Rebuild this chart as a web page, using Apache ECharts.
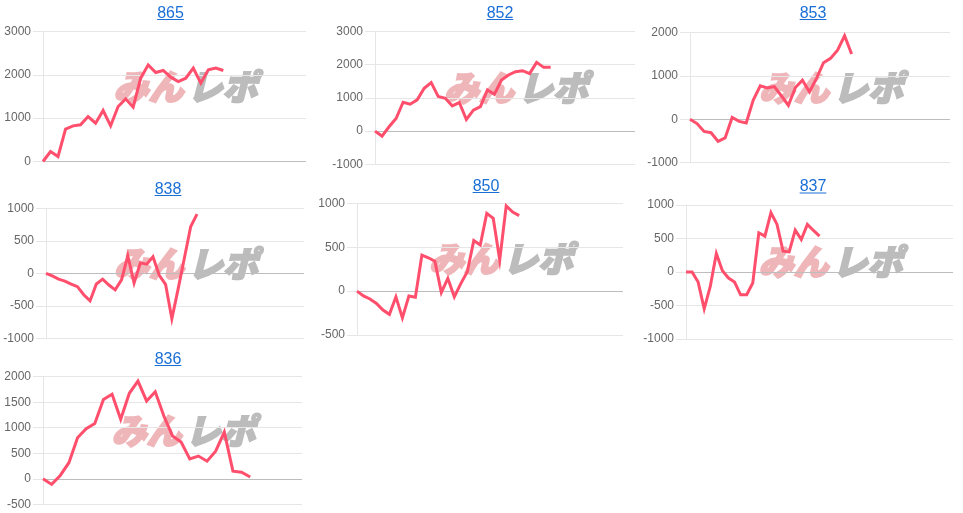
<!DOCTYPE html>
<html><head><meta charset="utf-8">
<script src="https://cdn.jsdelivr.net/npm/echarts@6/dist/echarts.min.js"></script>
<style>html,body{margin:0;padding:0;background:#fff}#c{width:963px;height:513px}</style>
</head><body><div id="c"></div>
<script>
// ---- data ----
const titles = ['865', '852', '853', '838', '850', '837', '836'];
const catCounts = [36, 38, 38, 42, 42, 45, 31];
const s865 = [0, 230, 115, 746, 823, 846, 1038, 885, 1177, 823, 1269, 1446, 1254, 1923, 2230, 2054, 2100, 1946, 1846, 1923, 2154, 1808, 2115, 2154, 2100];
const s852 = [0, -150, 130, 380, 870, 810, 940, 1290, 1460, 1040, 990, 760, 860, 350, 630, 735, 1240, 1110, 1540, 1690, 1790, 1820, 1730, 2070, 1920, 1920];
const s853 = [0, -100, -280, -310, -510, -430, 40, -50, -85, 440, 770, 720, 750, 540, 320, 730, 900, 630, 940, 1300, 1400, 1590, 1920, 1500];
const s838 = [0, -40, -90, -120, -165, -205, -330, -425, -165, -90, -180, -255, -100, 270, -150, 160, 140, 255, -30, -170, -700, -240, 240, 720, 910];
const s850 = [0, -55, -90, -140, -215, -265, -65, -305, -55, -70, 410, 380, 340, -15, 145, -65, 85, 220, 575, 525, 885, 830, 355, 970, 900, 860];
const s837 = [0, 0, -150, -550, -215, 275, 20, -90, -150, -340, -340, -165, 585, 535, 885, 710, 310, 300, 625, 485, 710, 620, 535];
const s836 = [0, -110, 65, 315, 805, 980, 1085, 1555, 1655, 1165, 1675, 1915, 1525, 1705, 1230, 840, 720, 390, 445, 345, 540, 915, 150, 130, 35];
const seriesData = [s865, s852, s853, s838, s850, s837, s836];
const yMin = [0, -1000, -1000, -1000, -500, -1000, -500];
const yMax = [3000, 3000, 2000, 1000, 1000, 1000, 2000];
const yStep = [1000, 1000, 1000, 500, 500, 500, 500];

// ---- layout ----
const grids = [
  {left: 43, top: 31.5, width: 263, height: 130},
  {left: 375, top: 31.5, width: 260, height: 132.8},
  {left: 690, top: 32.3, width: 260, height: 130.4},
  {left: 46, top: 208.3, width: 258, height: 130},
  {left: 357, top: 203.3, width: 266, height: 131.7},
  {left: 686, top: 205, width: 267, height: 134},
  {left: 43, top: 376.7, width: 259, height: 127.6}
];
const titlePos = [[170.5, 12.5], [500, 12.5], [813, 12.5], [168, 188.5], [486, 185.5], [813, 186], [168, 358.5]];

const LINE = '#ff4f6d';
const GRIDC = '#e6e6e6';
const ZEROC = '#bdbdbd';
const TITLEC = '#1a6fd6';
const LABELFONT = '"Liberation Sans", Arial, sans-serif';

const mctx = document.createElement('canvas').getContext('2d');
mctx.font = '16px "Liberation Sans", Arial, sans-serif';

const option = {
  animation: false,
  grid: [], xAxis: [], yAxis: [], series: [], graphic: []
};

for (let i = 0; i < titles.length; i++) {
  const g = grids[i];
  option.grid.push(Object.assign({containLabel: false}, g));
  const cats = [];
  for (let k = 1; k <= catCounts[i]; k++) cats.push(String(k));
  option.xAxis.push({
    type: 'category', gridIndex: i, data: cats, boundaryGap: false,
    axisLine: {show: false}, axisTick: {show: false}, axisLabel: {show: false}, splitLine: {show: false}
  });
  const splitColors = [];
  for (let v = yMin[i]; v <= yMax[i]; v += yStep[i]) splitColors.push(v === 0 ? ZEROC : GRIDC);
  option.yAxis.push({
    type: 'value', gridIndex: i, min: yMin[i], max: yMax[i], interval: yStep[i],
    axisLine: {show: true, lineStyle: {color: GRIDC, width: 1}},
    axisTick: {show: true, length: 10, lineStyle: {color: GRIDC}},
    axisLabel: {margin: 12, color: '#666', fontSize: 12, fontFamily: LABELFONT, formatter: v => String(v)},
    splitLine: {show: true, lineStyle: {color: splitColors, width: 1}}
  });
  option.series.push({
    type: 'line', xAxisIndex: i, yAxisIndex: i, data: seriesData[i],
    symbol: 'none', smooth: false, z: 5,
    lineStyle: {color: LINE, width: 3, join: 'miter'}, itemStyle: {color: LINE}
  });

  // watermark (logo-like text)
  const cx = g.left + g.width / 2 + 12;
  const cy = g.top + g.height / 2 - 10;
  option.graphic.push({
    type: 'text', z: -1, silent: true, x: cx - 3, y: cy,
    style: {text: 'みん', fill: '#efb6b9', stroke: '#efb6b9', lineWidth: 2, font: 'italic 900 35px "Noto Sans CJK JP"', align: 'right', verticalAlign: 'middle'}
  });
  option.graphic.push({
    type: 'text', z: -1, silent: true, x: cx + 1, y: cy,
    style: {text: 'レポ', fill: '#bcbcbc', stroke: '#bcbcbc', lineWidth: 2, font: 'italic 900 35px "Noto Sans CJK JP"', align: 'left', verticalAlign: 'middle'}
  });

  // title with underline
  const [tx, ty] = titlePos[i];
  const tw = mctx.measureText(titles[i]).width;
  option.graphic.push({
    type: 'text', silent: true, x: tx, y: ty + 1,
    style: {text: titles[i], fill: TITLEC, font: '16px "Liberation Sans", Arial, sans-serif', align: 'center', verticalAlign: 'middle'}
  });
  option.graphic.push({
    type: 'rect', silent: true,
    shape: {x: tx - tw / 2, y: ty + 6.5, width: tw, height: 1},
    style: {fill: TITLEC}
  });
}

const chart = echarts.init(document.getElementById('c'), null, {renderer: 'canvas'});
chart.setOption(option);
</script>
</body></html>
